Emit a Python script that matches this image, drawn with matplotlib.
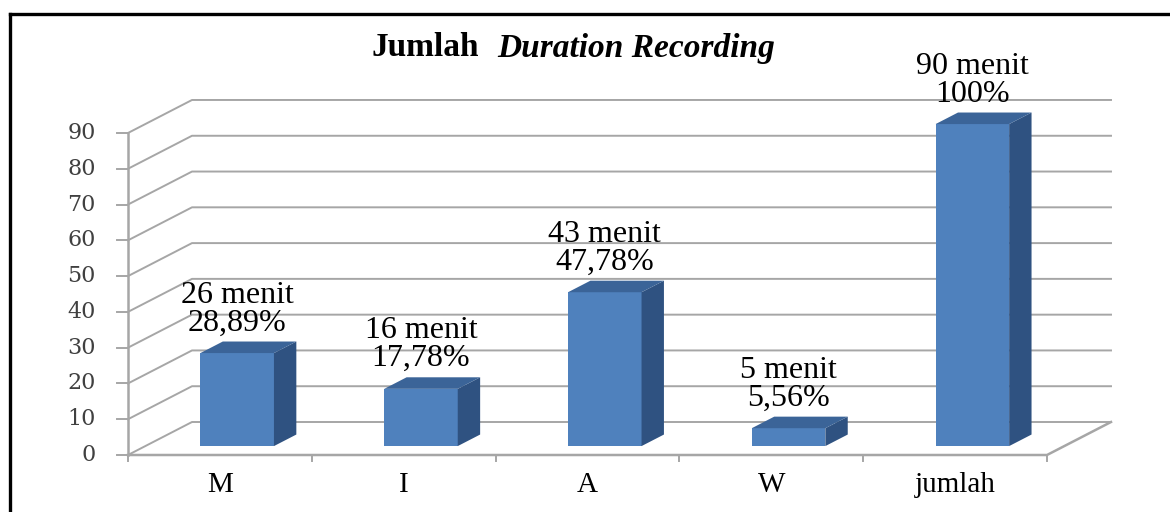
"""Jumlah Duration Recording — pseudo-3D column chart (Excel style)."""

import matplotlib
matplotlib.use("Agg")
import matplotlib.pyplot as plt
from matplotlib.patches import Polygon, Rectangle

categories = ["M", "I", "A", "W", "jumlah"]
minutes = [26, 16, 43, 5, 90]
percents = [28.89, 17.78, 47.78, 5.56, 100]
y_ticks = [0, 10, 20, 30, 40, 50, 60, 70, 80, 90]

W_PX, H_PX = 1170, 512
X0_PX, CAT_PX = 128, 183.8     # front y-axis position, width of one category
Y0_PX, UNIT_PX = 455, 3.578    # front floor line, pixels per minute
DX = 64 / CAT_PX               # depth of the plot box in category units
DY = 33 / UNIT_PX              # depth of the plot box in value units
F0, F1 = 0.27, 0.62            # bar front / back as fraction of depth
BAR_W = 0.40

FRONT = "#4F81BD"
SIDE = "#2F5281"
TOP = "#3B6498"
GRID = "#A6A6A6"
SERIF = "Liberation Serif"

fig = plt.figure(figsize=(W_PX / 100, H_PX / 100), dpi=100)
ax = fig.add_axes([0, 0, 1, 1])
ax.set_xlim(-X0_PX / CAT_PX, (W_PX - X0_PX) / CAT_PX)
ax.set_ylim((Y0_PX - H_PX) / UNIT_PX, Y0_PX / UNIT_PX)
ax.axis("off")
n = len(categories)

# back wall gridlines + left side wall
for v in y_ticks:
    ax.plot([0, DX, n + DX], [v, v + DY, v + DY], color=GRID, lw=1.4, zorder=1)
    ax.plot([-11 / CAT_PX, 0], [v, v], color=GRID, lw=1.4, zorder=1)

# floor and axes
ax.plot([0, n, n + DX], [0, 0, DY], color=GRID, lw=1.8, zorder=1)
ax.plot([0, 0], [0, y_ticks[-1]], color=GRID, lw=1.8, zorder=1)
for i in range(n + 1):
    ax.plot([i, i], [0, -6 / UNIT_PX], color=GRID, lw=1.4, zorder=1)

# bars
ddx, ddy = (F1 - F0) * DX, (F1 - F0) * DY
for i, (cat, v, p) in enumerate(zip(categories, minutes, percents)):
    xl = i + 0.5 + F0 * DX - BAR_W / 2
    xr = xl + BAR_W
    y0 = F0 * DY
    top = y0 + v
    ax.add_patch(Rectangle((xl, y0), BAR_W, v, facecolor=FRONT, edgecolor="none", zorder=3))
    ax.add_patch(Polygon([(xr, y0), (xr + ddx, y0 + ddy), (xr + ddx, top + ddy), (xr, top)],
                         closed=True, facecolor=SIDE, edgecolor="none", zorder=3))
    ax.add_patch(Polygon([(xl, top), (xr, top), (xr + ddx, top + ddy), (xl + ddx, top + ddy)],
                         closed=True, facecolor=TOP, edgecolor="none", zorder=3))

    label = f"{v} menit\n{p:.2f}%".replace(".", ",").replace(",00%", "%")
    ax.text(i + 0.5 + F0 * DX, top + ddy + 4 / UNIT_PX, label, ha="center", va="bottom",
            fontsize=23, family=SERIF, linespacing=0.95, zorder=5)
    ax.text(i + 0.5, -30 / UNIT_PX, cat, ha="center", va="center",
            fontsize=21, family=SERIF, zorder=5)

for v in y_ticks:
    ax.text(-32 / CAT_PX, v, str(v), ha="right", va="center",
            fontsize=16, family="DejaVu Serif", color="#404040")

# title
fig.text(479 / W_PX, 1 - 48 / H_PX, "Jumlah", ha="right", va="center",
         fontsize=24, family=SERIF, fontweight="bold")
fig.text(497 / W_PX, 1 - 48 / H_PX, "Duration Recording", ha="left", va="center",
         fontsize=24, family=SERIF, fontweight="bold", fontstyle="italic")

# frame (top and left edges only, the rest is cut off)
fig.add_artist(plt.Line2D([10 / W_PX, 1], [1 - 14 / H_PX, 1 - 14 / H_PX], color="black", lw=2.4))
fig.add_artist(plt.Line2D([10 / W_PX, 10 / W_PX], [0, 1 - 14 / H_PX], color="black", lw=2.4))

fig.savefig("out.png", dpi=100)
